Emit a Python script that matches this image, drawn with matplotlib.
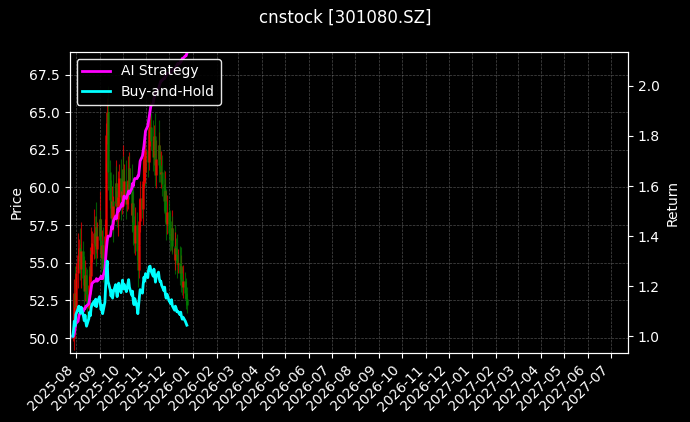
import numpy as np
import pandas as pd
import matplotlib
matplotlib.use('Agg')
import matplotlib.pyplot as plt
import matplotlib.dates as mdates

closes = [50.0, 51.2, 53.0, 52.1, 54.3, 55.5, 56.0,
          55.2, 54.6, 55.8, 54.0, 53.1, 54.2, 52.9, 52.0,
          53.5, 54.8, 54.1, 55.6, 56.3, 57.0,
          56.1, 57.4, 55.9, 56.8, 57.9, 56.5, 55.3, 56.2, 54.5,
          56.8, 60.2, 63.5, 65.0, 61.0, 59.2, 58.0,
          59.1, 57.6, 58.8, 60.3, 59.0, 57.9, 59.4, 60.6, 58.7, 59.8, 61.2, 59.5, 60.4, 58.9, 59.6, 60.5,
          61.3, 59.8, 58.2, 59.0, 57.1, 56.3, 57.5, 55.8, 54.5,
          56.2, 57.8, 59.3, 58.6, 60.4, 61.8, 61.0, 62.5, 61.7, 63.2, 63.9, 64.0,
          63.1, 62.0, 63.4, 62.2, 60.8, 61.9, 62.8, 61.5, 60.9, 61.0,
          60.2, 59.1, 59.8, 58.3, 57.6, 58.4, 57.0, 56.8, 56.5,
          57.3, 56.1, 55.2, 56.0, 55.6, 54.9, 55.0,
          54.3, 54.8, 53.9, 53.4, 53.8, 53.0, 52.6, 52.2]
wicks = [0.5, 2.0, 1.5, 3.0, 1.2, 2.5, 1.0, 2.2, 1.8, 3.2, 1.1, 2.4, 1.6, 0.9, 2.8,
         1.3, 2.1, 1.7, 3.0, 1.4, 2.6, 1.9, 1.2, 2.7, 1.5, 3.1, 1.0, 2.3, 1.6, 2.0,
         1.8, 2.4, 1.3, 1.6, 2.9, 1.4, 2.2, 1.7, 3.0, 1.1, 2.5, 1.9, 1.3, 2.8, 1.6,
         2.1, 1.2, 2.7, 1.5, 1.9, 2.4, 1.1, 2.6, 1.8, 1.4, 2.9, 1.2, 2.3, 1.7, 2.0,
         1.5, 2.8, 1.3, 2.4, 1.9, 1.6, 2.7, 1.1, 2.2, 1.8, 2.5, 1.4, 2.0, 2.9, 1.6,
         2.3, 1.2, 2.6, 1.7, 2.1, 1.5, 2.8, 1.3, 2.4, 1.9, 1.6, 2.2, 1.4, 2.7, 1.8,
         1.2, 2.5, 1.6, 2.0, 1.3, 2.4, 1.7, 1.1, 2.2, 1.5, 1.9, 1.2, 2.1, 1.4, 1.8,
         1.0, 1.6, 1.3]
ai_strategy = [1.00, 1.00, 1.01, 1.03, 1.05, 1.06, 1.08, 1.09, 1.09, 1.10, 1.10, 1.11, 1.11, 1.12, 1.12,
               1.13, 1.15, 1.17, 1.19, 1.21, 1.22, 1.22, 1.22, 1.23, 1.22, 1.23, 1.23, 1.24, 1.23, 1.23,
               1.27, 1.31, 1.35, 1.38, 1.40, 1.40, 1.42, 1.44, 1.43, 1.46, 1.48, 1.47, 1.49, 1.51, 1.50, 1.52,
               1.53, 1.52, 1.54, 1.56, 1.55, 1.56, 1.57, 1.58, 1.57, 1.59, 1.61, 1.60, 1.62, 1.63, 1.63, 1.64, 1.64,
               1.67, 1.70, 1.72, 1.74, 1.76, 1.79, 1.82, 1.84, 1.86, 1.88, 1.90, 1.92,
               1.93, 1.95, 1.96, 1.97, 1.98, 1.99, 2.00, 2.01, 2.02, 2.02, 2.03, 2.03, 2.04, 2.04, 2.05, 2.05,
               2.05, 2.06, 2.06, 2.06, 2.07,
               2.07, 2.08, 2.08, 2.09, 2.09, 2.10, 2.10, 2.11, 2.11, 2.12, 2.12, 2.13]

dates = pd.bdate_range('2025-07-28', periods=len(closes))
closes = np.array(closes)
opens = np.concatenate([[closes[0]], closes[:-1]])
highs = np.maximum(opens, closes) + np.array(wicks) * 0.6
lows = np.minimum(opens, closes) - np.array(wicks) * 0.4
buy_hold = closes / closes[0]

plt.style.use('dark_background')
fig, ax = plt.subplots(figsize=(6.9, 4.22), dpi=100)
fig.patch.set_facecolor('black')
ax.set_facecolor('black')

colors = ['red' if c >= o else 'green' for o, c in zip(opens, closes)]
ax.vlines(dates, lows, highs, colors=colors, linewidth=0.8, alpha=0.7)
ax.vlines(dates, np.minimum(opens, closes), np.maximum(opens, closes), colors=colors, linewidth=1.8, alpha=0.8)
ax.set_ylabel('Price')
ax.set_ylim(49.0, 69.0)
ax.grid(True, color='gray', linestyle='--', linewidth=0.5, alpha=0.6)

ax2 = ax.twinx()
l1, = ax2.plot(dates, ai_strategy, color='magenta', linewidth=2, label='AI Strategy')
l2, = ax2.plot(dates, buy_hold, color='cyan', linewidth=2, label='Buy-and-Hold')
ax2.set_ylabel('Return')
ax2.set_ylim(0.932, 2.136)

ax.set_xlim(pd.Timestamp('2025-07-24'), pd.Timestamp('2027-07-23'))
ax.xaxis.set_major_locator(mdates.MonthLocator())
ax.xaxis.set_major_formatter(mdates.DateFormatter('%Y-%m'))
plt.setp(ax.get_xticklabels(), rotation=45, ha='right')

ax2.legend(handles=[l1, l2], loc='upper left', facecolor='black', edgecolor='white', framealpha=0.9)
fig.suptitle('cnstock [301080.SZ]')
fig.subplots_adjust(left=0.101, right=0.91, top=0.877, bottom=0.163)
plt.savefig('out.png')
